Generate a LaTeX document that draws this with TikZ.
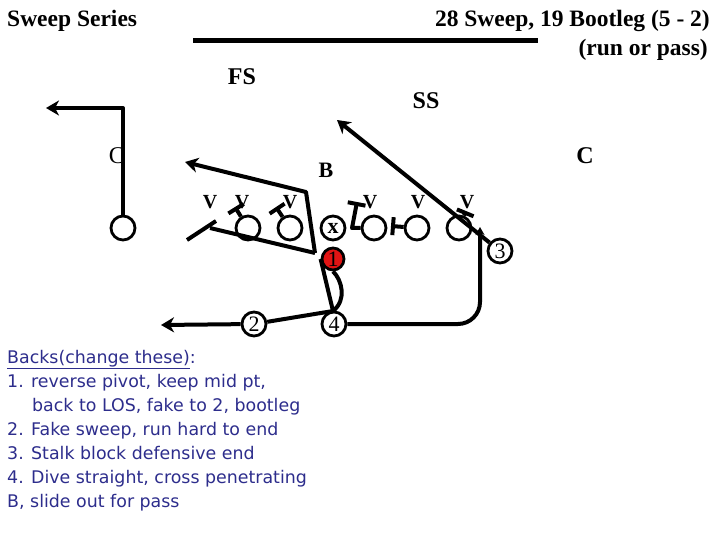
\documentclass[tikz,border=0pt]{standalone}
\usepackage{fontspec}
\setmainfont{Liberation Serif}
\newfontfamily\notefont{DejaVu Sans}
\usetikzlibrary{arrows.meta, positioning, calc}
\definecolor{qbred}{RGB}{225,20,20}
\definecolor{notecolor}{RGB}{45,45,140}
\tikzset{
  player/.style = {circle, draw, line width=2.8pt, minimum size=24pt, inner sep=0pt,
                   font=\fontsize{22}{22}\selectfont},
  def/.style    = {inner sep=0pt, font=\bfseries\fontsize{24}{24}\selectfont},
  heading/.style = {inner sep=0pt, font=\bfseries\fontsize{23.5}{26}\selectfont},
  trail/.style  = {line width=4pt, line join=round},
  route/.style  = {trail, -{Stealth[length=13pt,width=15pt,inset=4pt]}},
  block/.style  = {trail, -{Bar[width=18pt]}},
}

\begin{document}
\begin{tikzpicture}[x=1pt, y=-1pt]
  \useasboundingbox (0,0) rectangle (720,540);
  % headings
  \node[heading, anchor=base west] (series) at (7,27) {Sweep Series};
  \node[heading, anchor=base east] (play) at (710,27) {28 Sweep, 19 Bootleg (5 - 2)};
  \node[heading, anchor=base east] (runpass) at (708,56) {(run or pass)};
  \coordinate (rulel) at (193,41);
  \coordinate (ruler) at (538,41);
  \draw[line width=5pt] (rulel) -- (ruler);

  % defense
  \node[def] (fs) at (242,77) {FS};
  \node[def] (ss) at (426,101) {SS};
  \node[def, font=\bfseries\fontsize{22}{22}\selectfont] (lb) at (326,170) {B};
  \node[def, font=\fontsize{24}{24}\selectfont] (cl) at (117,156) {C};
  \node[def] (cr) at (585,156) {C};
  \foreach \n/\x in {v1/210, v2/242, v3/290, v4/370, v5/418, v6/467} {
    \node[def, font=\bfseries\fontsize{20}{20}\selectfont] (\n) at (\x,202) {V};
  }

  % offense
  \node[player] (wr) at (123,228) {};
  \foreach \n/\x in {lt/248, lg/290, rg/374, rt/417, te/459} {
    \node[player] (\n) at (\x,228) {};
  }
  \node[player] (ctr) at (333,228) {\raisebox{-3pt}{\bfseries x}};
  \node[player, fill=qbred, minimum size=22pt] (qb) at (333,259) {1};
  \node[player] (hb) at (254,324) {2};
  \node[player] (fb) at (334,324) {4};
  \node[player] (wb) at (500,251) {3};

  % routes
  \coordinate (wrturn) at (123,108);
  \coordinate (wrend) at (46,108);
  \draw[route] (wr) -- (wrturn) -- (wrend);

  \coordinate (pv) at (315,253);
  \coordinate (bkturn) at (306,192);
  \coordinate (bkend) at (185,162);
  \draw[route] (pv) -- (bkturn) -- (bkend);

  \coordinate (cut) at (210,228);
  \coordinate (cuta) at (187,240);
  \coordinate (cutb) at (216,221);
  \draw[trail] (pv) -- (cut);
  \draw[trail] (cuta) -- (cutb);

  \coordinate (fk) at (333,311);
  \draw[trail] (qb.west) -- (fk) .. controls (347,300) and (342,280) .. (qb.south);
  \draw[trail] (hb) -- (fk);

  \coordinate (hbend) at (161,325);
  \draw[route] (hb) -- (hbend);

  \coordinate (ssend) at (337,120);
  \draw[route] (wb) -- (ssend);

  \coordinate (fbturn) at (480,324);
  \coordinate (fbend) at (480,227);
  \draw[trail, rounded corners=22pt, -{Stealth[length=8pt,width=9pt]}] (fb) -- (fbturn) -- (fbend);

  % blocks
  \foreach \n/\x/\y in {lt/235/207, lg/276/207, rt/391/226, te/466/211} {
    \coordinate (\n b) at (\x,\y);
    \draw[block] (\n) -- (\n b);
  }
  \coordinate (rga) at (352,228);
  \coordinate (rgb) at (357,202);
  \draw[block] (rg) -- (rga) -- (rgb);

  % notes
  \node[anchor=north west, inner sep=0pt, align=left, text=notecolor,
        font=\notefont\fontsize{17.4}{24}\selectfont] (notes) at (7,350)
    {\underline{Backs(change these)}:\\
     1. reverse pivot, keep mid pt,\\
     \hspace*{25pt}back to LOS, fake to 2, bootleg\\
     2. Fake sweep, run hard to end\\
     3. Stalk block defensive end\\
     4. Dive straight, cross penetrating\\
     B, slide out for pass};
\end{tikzpicture}
\end{document}
